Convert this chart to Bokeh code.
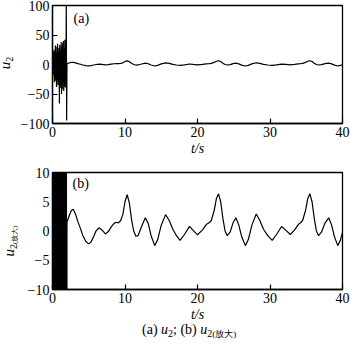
from bokeh.plotting import figure
from bokeh.layouts import column, row
from bokeh.models import Label, Range1d, FixedTicker, Div
from bokeh.embed import file_html
from bokeh.resources import INLINE

# ---- data ----
# start-up oscillation, 0-2 s
t_osc = [0.00, 0.05, 0.10, 0.15, 0.20, 0.25, 0.30, 0.35, 0.40, 0.45,
         0.50, 0.55, 0.60, 0.65, 0.70, 0.75, 0.80, 0.85, 0.90, 0.95,
         1.00, 1.05, 1.10, 1.15, 1.20, 1.25, 1.30, 1.35, 1.40, 1.45,
         1.50, 1.55, 1.60, 1.65, 1.70, 1.75, 1.80, 1.85, 1.90, 1.95]
u_osc = [15, -18, 22, -15, 25, -30, 20, -25, 32, -28,
         20, -38, 30, -25, 35, -35, 22, -30, 28, -66,
         33, -40, 25, -35, 38, -50, 30, -42, 36, -30,
         40, -45, 28, -38, 42, -35, 30, -40, 110, -95]
# settled response, 2-40 s
t_main = [2.0, 2.3, 2.6, 2.86, 3.2, 3.5, 3.86, 4.2, 4.6, 5.0,
          5.3, 5.7, 6.0, 6.4, 6.8, 7.3, 7.7, 8.1, 8.5, 8.8,
          9.1, 9.4, 9.7, 10.0, 10.3, 10.6, 10.9, 11.2, 11.5, 11.8,
          12.3, 12.8, 13.2, 13.6, 14.1, 14.5, 15.0, 15.6, 16.1, 16.6,
          17.1, 17.6, 18.2, 18.9, 19.4, 20.0, 20.7, 21.2, 21.6, 21.9,
          22.3, 22.6, 22.9, 23.2, 23.5, 23.8, 24.1, 24.5, 24.9, 25.3,
          25.7, 26.1, 26.6, 27.0, 27.5, 28.1, 28.6, 29.1, 29.7, 30.3,
          30.9, 31.6, 32.2, 32.8, 33.4, 33.9, 34.2, 34.5, 34.9, 35.2,
          35.5, 35.8, 36.1, 36.4, 36.7, 37.1, 37.6, 38.1, 38.5, 38.9,
          39.35, 39.7, 40.0]
u_main = [1.5, 2.6, 3.5, 3.7, 2.8, 1.6, 0.4, -0.8, -1.8, -2.2,
          -1.9, -0.9, 0.0, 0.55, 0.2, -0.5, -0.1, 0.7, 1.3, 1.5,
          1.4, 1.8, 2.8, 5.0, 6.2, 4.8, 2.0, 0.0, -0.9, -0.8,
          0.8, 2.25, 1.3, -0.8, -2.5, -1.5, 1.0, 2.8, 1.8, 0.3,
          -0.8, -1.6, -0.6, 0.8, 0.1, -0.65, 0.2, 1.1, 1.4, 1.8,
          3.5, 5.5, 6.35, 5.0, 2.2, 0.0, -0.8, -0.2, 1.4, 2.25,
          1.0, -1.0, -2.5, -1.5, 1.0, 2.9, 1.8, 0.3, -0.8, -1.6,
          -0.6, 0.77, 0.1, -0.6, 0.2, 1.1, 1.4, 1.8, 3.5, 5.5,
          6.35, 5.0, 2.2, 0.0, -0.8, -0.2, 1.4, 2.25, 1.0, -1.0,
          -2.5, -1.6, -0.3]

t_all = t_osc + t_main
u_all = u_osc + u_main

x_ticks = [0, 10, 20, 30, 40]
top_y_ticks = [-100, -50, 0, 50, 100]
bot_y_ticks = [-10, -5, 0, 5, 10]

FONT = "Liberation Serif"
CSS_FONT = "font-family:'Liberation Serif','Times New Roman',serif;color:black;"


def minus(v):
    return ("\u2212" + str(-v)) if v < 0 else str(v)


def make_fig(yr, yticks, frame_h, left_border, top_border, bottom_border):
    p = figure(frame_width=290, frame_height=frame_h,
               x_range=Range1d(0, 40), y_range=Range1d(*yr),
               output_backend="svg", toolbar_location=None,
               min_border_left=left_border, min_border_right=8,
               min_border_top=top_border, min_border_bottom=bottom_border,
               background_fill_color="white", border_fill_color="white")
    p.grid.visible = False
    p.outline_line_color = "black"
    p.outline_line_width = 1.3
    p.outline_line_alpha = 1.0
    p.xaxis.ticker = FixedTicker(ticks=x_ticks)
    p.yaxis.ticker = FixedTicker(ticks=yticks)
    p.xaxis.major_label_overrides = {v: minus(v) for v in x_ticks}
    p.yaxis.major_label_overrides = {v: minus(v) for v in yticks}
    for ax in p.axis:
        ax.major_tick_in = 5
        ax.major_tick_out = 0
        ax.minor_tick_line_color = None
        ax.axis_line_color = "black"
        ax.axis_line_width = 1.3
        ax.major_tick_line_color = "black"
        ax.major_tick_line_width = 1.2
        ax.major_label_text_font = FONT
        ax.major_label_text_font_size = "14px"
        ax.major_label_text_color = "black"
        ax.major_label_standoff = 3
    p.xaxis.axis_label = "t/s"
    p.xaxis.axis_label_text_font = FONT
    p.xaxis.axis_label_text_font_style = "italic"
    p.xaxis.axis_label_text_font_size = "14px"
    p.xaxis.axis_label_text_color = "black"
    p.xaxis.axis_label_standoff = 1
    p.line(t_all, u_all, line_color="black", line_width=1.2)
    return p


def ylabel_div(html, width, left, top, height):
    return Div(text=(
        f'<div style="position:absolute;left:{left}px;top:{top}px;'
        'transform:translate(-50%,-50%) rotate(-90deg);white-space:nowrap;'
        f'{CSS_FONT}font-size:15px;line-height:12px;">{html}</div>'),
        width=width, height=height, margin=0,
        styles={"position": "relative", "overflow": "visible"})


# ---- top: u2 ----
p1 = make_fig((-100, 100), top_y_ticks, 118, 38, 5, 40)
p1.add_layout(Label(x=2.9, y=78, text="(a)", text_font=FONT,
                    text_font_size="14px", text_align="left",
                    text_baseline="middle", text_color="black"))
lab1 = ylabel_div('<i>u</i><span style="font-size:10px;vertical-align:-3px;">2</span>',
                  14, 7, 63, 163)

# ---- bottom: u2 (enlarged) ----
p2 = make_fig((-10, 10), bot_y_ticks, 117, 30, 9, 36)
p2.add_layout(Label(x=2.76, y=8.1, text="(b)", text_font=FONT,
                    text_font_size="14px", text_align="left",
                    text_baseline="middle", text_color="black"))
lab2 = ylabel_div('<i>u</i><span style="font-size:10px;vertical-align:-3px;">2'
                  '<span style="font-size:7px;">(放大)</span></span>',
                  22, 12, 78, 162)

caption = Div(text=(
    f'<div style="position:absolute;left:142px;top:-3px;white-space:nowrap;'
    f'{CSS_FONT}font-size:14px;line-height:16px;">'
    '(a) <i>u</i><span style="font-size:10px;vertical-align:-3px;">2</span>; '
    '(b) <i>u</i><span style="font-size:10px;vertical-align:-3px;">2'
    '<span style="font-size:9px;">(放大)</span></span></div>'),
    width=340, height=14, margin=0,
    styles={"position": "relative", "overflow": "visible"})

layout = column(row(lab1, p1, spacing=0), row(lab2, p2, spacing=0), caption,
                spacing=0)

open("out.html", "w").write(file_html(layout, INLINE))
